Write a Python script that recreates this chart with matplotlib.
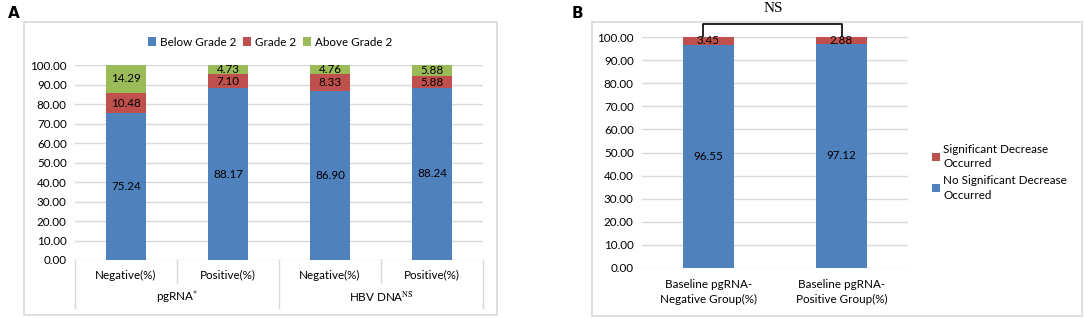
import matplotlib.pyplot as plt
from matplotlib.patches import Rectangle
from matplotlib.lines import Line2D

W, H = 1084, 318
BLUE = "#4F81BD"
RED = "#C0504D"
GREEN = "#9BBB59"
GRID = "#D9D9D9"

# panel A data
a_groups = ["pgRNA$^{*}$", "HBV DNA$^{\\mathrm{NS}}$"]
a_cats = ["Negative(%)", "Positive(%)", "Negative(%)", "Positive(%)"]
a_below = [75.24, 88.17, 86.90, 88.24]
a_grade2 = [10.48, 7.10, 8.33, 5.88]
a_above = [14.29, 4.73, 4.76, 5.88]
a_series = ["Below Grade 2", "Grade 2", "Above Grade 2"]

# panel B data
b_cats = ["Baseline pgRNA-\nNegative Group(%)", "Baseline pgRNA-\nPositive Group(%)"]
b_nodec = [96.55, 97.12]
b_dec = [3.45, 2.88]
b_series = ["Significant Decrease\nOccurred", "No Significant Decrease\nOccurred"]

yticks = [0, 10, 20, 30, 40, 50, 60, 70, 80, 90, 100]

plt.rcParams["font.family"] = ["Lato", "DejaVu Sans"]
plt.rcParams["mathtext.fontset"] = "stix"
FS = 8.4


def px_axes(fig, x0, x1, ytop, ybot):
    return fig.add_axes([x0 / W, (H - ybot) / H, (x1 - x0) / W, (ybot - ytop) / H])


def style_axes(ax):
    ax.set_ylim(0, 100)
    ax.set_yticks(yticks)
    ax.set_yticklabels([f"{v:.2f}" for v in yticks], fontsize=FS)
    for s in ax.spines.values():
        s.set_visible(False)
    ax.tick_params(length=0, pad=6)
    for v in yticks:
        ax.axhline(v, color=GRID, lw=1, zorder=0)


def label_segments(ax, x, bottoms, heights):
    for xi, b, h in zip(x, bottoms, heights):
        ax.text(xi, b + h / 2, f"{h:.2f}", ha="center", va="center", fontsize=FS, color="black")


fig = plt.figure(figsize=(W / 100, H / 100), dpi=100)

# frames
fig.patches.append(Rectangle((24 / W, (H - 315) / H), (497 - 24) / W, (315 - 22) / H,
                             transform=fig.transFigure, fill=False, edgecolor=GRID, lw=1.2))
fig.patches.append(Rectangle((592 / W, (H - 316) / H), (1082 - 592) / W, (316 - 22) / H,
                             transform=fig.transFigure, fill=False, edgecolor=GRID, lw=1.2))
fig.text(8 / W, 1 - 14 / H, "A", fontsize=11, fontweight="bold", family="DejaVu Sans", va="center")
fig.text(572 / W, 1 - 14 / H, "B", fontsize=11, fontweight="bold", family="DejaVu Sans", va="center")

# ---- panel A ----
ax = px_axes(fig, 75, 483, 65, 260)
style_axes(ax)
x = list(range(len(a_cats)))
bw = 0.39
b2 = a_below
b3 = [p + q for p, q in zip(a_below, a_grade2)]
ax.bar(x, a_below, bw, color=BLUE, label=a_series[0], zorder=2)
ax.bar(x, a_grade2, bw, bottom=b2, color=RED, label=a_series[1], zorder=2)
ax.bar(x, a_above, bw, bottom=b3, color=GREEN, label=a_series[2], zorder=2)
label_segments(ax, x, [0] * 4, a_below)
label_segments(ax, x, b2, a_grade2)
label_segments(ax, x, b3, a_above)
ax.set_xlim(-0.5, len(a_cats) - 0.5)
ax.set_xticks([])
tr = ax.get_xaxis_transform()
h = 195.0
for i, c in enumerate(a_cats):
    ax.text(i, -15 / h, c, transform=tr, ha="center", va="center", fontsize=FS)
for k, g in enumerate(a_groups):
    ax.text(2 * k + 0.5, -37 / h, g, transform=tr, ha="center", va="center", fontsize=FS)
for b in [-0.5, 1.5, 3.5]:
    ax.add_line(Line2D([b, b], [0, -48 / h], transform=tr, color=GRID, lw=1, clip_on=False))
for b in [0.5, 2.5]:
    ax.add_line(Line2D([b, b], [0, -23 / h], transform=tr, color=GRID, lw=1, clip_on=False))
ax.legend(loc="center", bbox_to_anchor=(270 / W, 1 - 42 / H), bbox_transform=fig.transFigure,
          ncol=3, frameon=False, fontsize=FS, handlelength=0.7, handleheight=0.7,
          handletextpad=0.3, columnspacing=0.6)

# ---- panel B ----
bx = px_axes(fig, 642, 908, 37, 268)
style_axes(bx)
xb = list(range(len(b_cats)))
bx.bar(xb, b_nodec, bw, color=BLUE, label=b_series[1], zorder=2)
bx.bar(xb, b_dec, bw, bottom=b_nodec, color=RED, label=b_series[0], zorder=2)
label_segments(bx, xb, [0] * 2, b_nodec)
label_segments(bx, xb, b_nodec, b_dec)
bx.set_xlim(-0.5, len(b_cats) - 0.5)
bx.set_xticks(xb)
bx.set_xticklabels(b_cats, fontsize=FS, linespacing=1.45)
bx.tick_params(axis="x", pad=8)
hb, lb = bx.get_legend_handles_labels()
leg = bx.legend(hb[::-1], lb[::-1], loc="upper left", bbox_to_anchor=(921 / W, 1 - 133 / H),
                bbox_transform=fig.transFigure, frameon=False, fontsize=FS, handlelength=0.7,
                handleheight=0.7, handletextpad=0.3, labelspacing=0.5)
for t in leg.get_texts():
    t.set_linespacing(1.4)

# significance bracket
btr = bx.get_xaxis_transform()
top = 1 + 13 / 231.0
bx.add_line(Line2D([-0.04, -0.04, 1.0, 1.0], [1.005, top, top, 1.005], transform=btr,
                   color="black", lw=1.2, clip_on=False))
bx.text(0.49, 1 + 28 / 231.0, "NS", transform=btr, ha="center", va="center",
        fontsize=11, family="Liberation Serif")

fig.savefig("out.png", dpi=100)
